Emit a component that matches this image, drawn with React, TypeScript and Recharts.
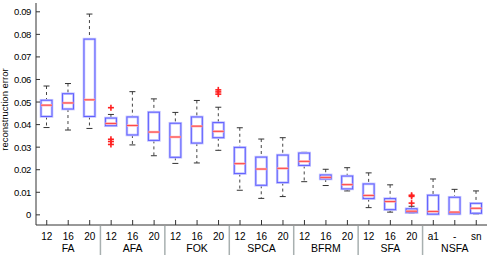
import React from 'react';
import { Bar, ComposedChart, XAxis, YAxis } from 'recharts';

const W = 495;
const H = 260;
const M = { top: 3, right: 8, left: 0, bottom: 0 };
const Y_AXIS_W = 36;
const X_AXIS_H = 35;

const methods = ['FA', 'AFA', 'FOK', 'SPCA', 'BFRM', 'SFA', 'NSFA'];
const settings = [
  ['12', '16', '20'], ['12', '16', '20'], ['12', '16', '20'], ['12', '16', '20'],
  ['12', '16', '20'], ['12', '16', '20'], ['a1', '-', 'sn'],
];

// box statistics, one entry per box (method x setting)
const whiskerLow = [0.0387, 0.0376, 0.0383, 0.0393, 0.031, 0.0262, 0.0228, 0.023, 0.0286, 0.0109, 0.0073, 0.0081, 0.0147, 0.013, 0.0106, 0.0032, 0.0012, 0.0006, 0.0003, 0.0003, 0.0004];
const q1 = [0.0436, 0.0469, 0.0436, 0.0395, 0.0354, 0.033, 0.0255, 0.0318, 0.0342, 0.0183, 0.0131, 0.0143, 0.0219, 0.0159, 0.0115, 0.0072, 0.0023, 0.001, 0.0003, 0.0004, 0.0007];
const median = [0.0486, 0.0496, 0.051, 0.0405, 0.0396, 0.0367, 0.0345, 0.0393, 0.037, 0.0227, 0.0203, 0.0206, 0.0237, 0.0166, 0.0134, 0.0086, 0.0059, 0.0016, 0.0015, 0.0012, 0.0029];
const q3 = [0.0508, 0.0537, 0.0779, 0.0429, 0.0434, 0.0455, 0.0406, 0.0434, 0.0409, 0.0299, 0.0256, 0.0265, 0.0274, 0.0177, 0.0172, 0.0137, 0.0072, 0.0027, 0.0087, 0.0078, 0.0051];
const whiskerHigh = [0.0571, 0.0582, 0.089, 0.0445, 0.0546, 0.0514, 0.0454, 0.0507, 0.0477, 0.0386, 0.0336, 0.0342, 0.0277, 0.0202, 0.0209, 0.0186, 0.0133, 0.0038, 0.0159, 0.0113, 0.0106];
const outliers: number[][] = [
  [], [], [], [0.0475, 0.0335, 0.0325, 0.0312], [], [], [], [], [0.0554, 0.0545, 0.0535],
  [], [], [], [], [], [], [], [], [0.0087, 0.0082, 0.0052], [], [], [],
];

const yTicks = [0, 0.01, 0.02, 0.03, 0.04, 0.05, 0.06, 0.07, 0.08, 0.09];

const data = whiskerLow.map((lo, i) => ({
  id: `${methods[Math.floor(i / 3)]}-${i}`,
  group: methods[Math.floor(i / 3)],
  label: settings[Math.floor(i / 3)][i % 3],
  range: [lo, whiskerHigh[i]],
  q1: q1[i],
  med: median[i],
  q3: q3[i],
  out: outliers[i],
}));

const FONT = 'Liberation Sans, Arial, sans-serif';
const BAND = (W - M.left - M.right - Y_AXIS_W) / data.length;

const BoxShape = (props: any) => {
  const { x, y, width, height, payload } = props;
  const [lo, hi] = payload.range;
  const top = Math.min(y, y + height);
  const h = Math.abs(height);
  const py = (v: number) => top + (h * (hi - v)) / (hi - lo);
  const cx = x + width / 2;
  const capW = 3;
  return (
    <g>
      <line x1={cx} x2={cx} y1={py(hi)} y2={py(payload.q3)} stroke="#444" strokeDasharray="3 3" />
      <line x1={cx} x2={cx} y1={py(payload.q1)} y2={py(lo)} stroke="#444" strokeDasharray="3 3" />
      <line x1={cx - capW} x2={cx + capW} y1={py(hi)} y2={py(hi)} stroke="#333" />
      <line x1={cx - capW} x2={cx + capW} y1={py(lo)} y2={py(lo)} stroke="#333" />
      <rect x={x} y={py(payload.q3)} width={width} height={Math.max(0.5, py(payload.q1) - py(payload.q3))}
        fill="none" stroke="#c4c4ff" strokeWidth={2.6} />
      <rect x={x} y={py(payload.q3)} width={width} height={Math.max(0.5, py(payload.q1) - py(payload.q3))}
        fill="none" stroke="#5f5fff" strokeWidth={1} />
      <line x1={x} x2={x + width} y1={py(payload.med)} y2={py(payload.med)} stroke="#ffb0b0" strokeWidth={2.4} />
      <line x1={x} x2={x + width} y1={py(payload.med)} y2={py(payload.med)} stroke="#ff4848" strokeWidth={1} />
      {payload.out.map((v: number, k: number) => (
        <g key={k} stroke="#ff2020" strokeWidth={1.6}>
          <line x1={cx - 3} x2={cx + 3} y1={py(v)} y2={py(v)} />
          <line x1={cx} x2={cx} y1={py(v) - 3} y2={py(v) + 3} />
        </g>
      ))}
    </g>
  );
};

const BottomTick = (props: any) => {
  const { x, y, index } = props;
  const d = data[index];
  if (!d) return null;
  return (
    <g>
      <line x1={x} x2={x} y1={y} y2={y - 5} stroke="#333" />
      <text x={x} y={y + 15} textAnchor="middle" fontSize={10} fontFamily={FONT} fill="#000">{d.label}</text>
      {index % 3 === 1 && (
        <text x={x} y={y + 27} textAnchor="middle" fontSize={10.5} fontFamily={FONT} fill="#000">{d.group}</text>
      )}
      {index % 3 === 2 && index < data.length - 1 && (
        <line x1={x + BAND / 2} x2={x + BAND / 2} y1={y + 1} y2={y + 30} stroke="#a8b0b0" strokeWidth={1.5} />
      )}
    </g>
  );
};

const TopTick = (props: any) => {
  const { x, y } = props;
  return <line x1={x} x2={x} y1={y} y2={y + 4} stroke="#333" />;
};

const LeftTick = (props: any) => {
  const { x, y, payload } = props;
  const v = payload.value;
  return (
    <g>
      <line x1={x} x2={x + 4} y1={y} y2={y} stroke="#333" />
      <text x={x - 5} y={y + 3.5} textAnchor="end" fontSize={9.5} letterSpacing={-0.4} fontFamily={FONT} fill="#000">
        {v === 0 ? '0' : v.toFixed(2)}
      </text>
    </g>
  );
};

const RightTick = (props: any) => {
  const { x, y } = props;
  return <line x1={x} x2={x - 4} y1={y} y2={y} stroke="#333" />;
};

const YLabel = (props: any) => {
  const vb = props.viewBox || {};
  const cx = 5;
  const cy = (vb.y ?? 3) + (vb.height ?? 222) * 0.48;
  return (
    <text x={cx} y={cy} transform={`rotate(-90 ${cx} ${cy})`} textAnchor="middle" dominantBaseline="central"
      fontSize={9.5} fontFamily={FONT} fill="#000">reconstruction error</text>
  );
};

export default function App() {
  return (
    <div style={{ position: 'absolute', left: 0, top: 0, width: W, height: H, background: '#fff' }}>
      <ComposedChart width={W} height={H} data={data} margin={M} barCategoryGap={0}>
        <XAxis dataKey="id" xAxisId="bottom" orientation="bottom" height={X_AXIS_H} interval={0}
          tickSize={0} tickMargin={0} tickLine={false} tick={<BottomTick />} stroke="#333" />
        <XAxis dataKey="id" xAxisId="top" orientation="top" height={0} interval={0}
          tickSize={0} tickMargin={0} tickLine={false} tick={<TopTick />} stroke="#333" />
        <YAxis yAxisId="left" width={Y_AXIS_W} type="number" domain={[-0.0045, 0.0939]} ticks={yTicks}
          allowDataOverflow interval={0} tickSize={0} tickMargin={0} tickLine={false} tick={<LeftTick />}
          stroke="#333" label={<YLabel />} />
        <YAxis yAxisId="right" orientation="right" width={0} type="number" domain={[-0.0045, 0.0939]} ticks={yTicks}
          allowDataOverflow interval={0} tickSize={0} tickMargin={0} tickLine={false} tick={<RightTick />}
          stroke="#333" />
        <Bar dataKey="range" xAxisId="bottom" yAxisId="left" barSize={11} shape={<BoxShape />}
          isAnimationActive={false} />
      </ComposedChart>
    </div>
  );
}
